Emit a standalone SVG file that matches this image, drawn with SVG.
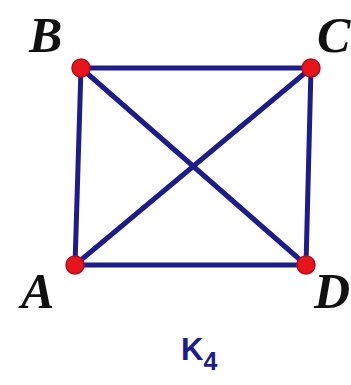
<svg xmlns="http://www.w3.org/2000/svg" width="351" height="385" viewBox="0 0 351 385">
<style>
.e{stroke:#1c1c8a;stroke-width:5;stroke-linecap:round}
.n{fill:#e8141c;stroke:#b0101a;stroke-width:1.5}
.l{font-family:"Liberation Serif",serif;font-weight:bold;font-style:italic;font-size:50px;fill:#111}
.k{font-family:"Liberation Sans",sans-serif;font-weight:bold;fill:#1c1c8a}
</style>
<rect width="351" height="385" fill="#fff"/>
<g id="edges">
<line class="e" x1="81" y1="68" x2="311" y2="68"/>
<line class="e" x1="311" y1="68" x2="306" y2="265"/>
<line class="e" x1="306" y1="265" x2="75" y2="265"/>
<line class="e" x1="75" y1="265" x2="81" y2="68"/>
<line class="e" x1="81" y1="68" x2="306" y2="265"/>
<line class="e" x1="75" y1="265" x2="311" y2="68"/>
</g>
<g id="B"><circle class="n" cx="81" cy="68" r="9"/><text class="l" x="29" y="52">B</text></g>
<g id="C"><circle class="n" cx="311" cy="68" r="9"/><text class="l" x="317" y="52">C</text></g>
<g id="A"><circle class="n" cx="75" cy="265" r="9"/><text class="l" x="21" y="308">A</text></g>
<g id="D"><circle class="n" cx="306" cy="265" r="9"/><text class="l" x="314" y="308">D</text></g>
<g id="label"><text class="k" x="181" y="360" font-size="31">K<tspan font-size="25" dy="10">4</tspan></text></g>
</svg>
